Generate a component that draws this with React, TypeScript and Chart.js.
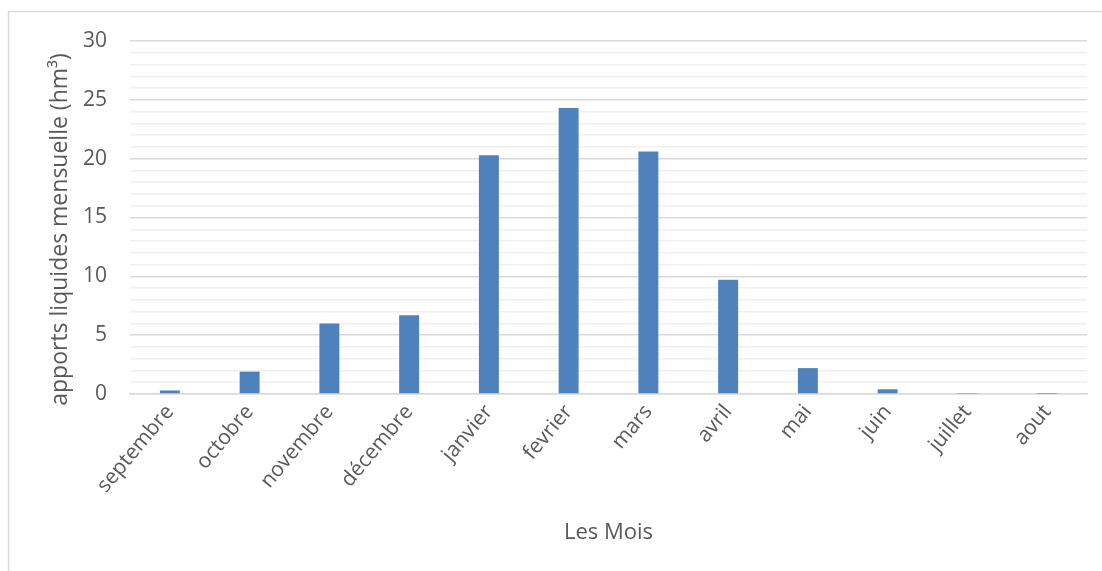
import React, { useEffect, useRef } from "react";
import { Chart, registerables } from "chart.js";

Chart.register(...registerables);

const months = [
  "septembre", "octobre", "novembre", "décembre", "janvier", "fevrier",
  "mars", "avril", "mai", "juin", "juillet", "aout",
];
const apports = [0.3, 1.9, 6.0, 6.7, 20.3, 24.3, 20.6, 9.7, 2.2, 0.4, 0.03, 0.02];
const yMin = 0;
const yMax = 30;
const yMajorStep = 5;

const textColor = "#595959";
const fontFamily = "'Open Sans', sans-serif";

// Thin frame around the whole chart (its right and bottom edges fall outside the page)
const framePlugin = {
  id: "frame",
  beforeDraw(chart: Chart) {
    const ctx = chart.ctx;
    ctx.save();
    ctx.strokeStyle = "#d9d9d9";
    ctx.lineWidth = 1.5;
    ctx.strokeRect(8.5, 11.5, 1400, 900);
    ctx.restore();
  },
};

export default function App() {
  const canvasRef = useRef<HTMLCanvasElement | null>(null);

  useEffect(() => {
    if (!canvasRef.current) return;
    const chart = new Chart(canvasRef.current, {
      type: "bar",
      data: {
        labels: months,
        datasets: [
          {
            data: apports,
            backgroundColor: "#4f81bd",
            borderWidth: 0,
            barPercentage: 0.25,
            categoryPercentage: 1,
          },
        ],
      },
      plugins: [framePlugin],
      options: {
        animation: false,
        responsive: false,
        maintainAspectRatio: false,
        layout: { padding: { top: 41, right: 15, left: 0, bottom: 0 } },
        plugins: {
          legend: { display: false },
          tooltip: { enabled: false },
        },
        scales: {
          x: {
            grid: { display: false, drawTicks: false },
            border: { display: true, color: "#d9d9d9", width: 1.5 },
            ticks: {
              color: textColor,
              font: { family: fontFamily, size: 21 },
              maxRotation: 50,
              minRotation: 50,
              autoSkip: false,
              padding: 6,
            },
            title: {
              display: true,
              text: "Les Mois",
              color: textColor,
              font: { family: fontFamily, size: 22 },
              padding: { top: 0, bottom: 25 },
            },
            afterFit: (scale: any) => {
              scale.height = 177;
            },
          },
          y: {
            min: yMin,
            max: yMax,
            grid: {
              drawTicks: false,
              color: (c: any) =>
                c.tick && c.tick.value % yMajorStep === 0 ? "#d9d9d9" : "#f0f0f0",
              lineWidth: 1.5,
            },
            border: { display: false },
            ticks: {
              stepSize: 1,
              autoSkip: false,
              color: textColor,
              padding: 23,
              font: { family: fontFamily, size: 21 },
              callback: (v: any) => (Number(v) % yMajorStep === 0 ? String(v) : ""),
            },
            title: {
              display: true,
              // trailing spaces nudge the centred, upward-reading title toward the bottom
              text: "apports liquides mensuelle (hm³)    ",
              color: textColor,
              font: { family: fontFamily, size: 23 },
              padding: { top: 47, bottom: 0 },
            },
            afterFit: (scale: any) => {
              scale.width = 130;
            },
          },
        },
      },
    });
    return () => chart.destroy();
  }, []);

  return (
    <div style={{ position: "fixed", left: 0, top: 0, width: 1102, height: 571, background: "#ffffff" }}>
      <canvas ref={canvasRef} width={1102} height={571} style={{ display: "block" }} />
    </div>
  );
}
